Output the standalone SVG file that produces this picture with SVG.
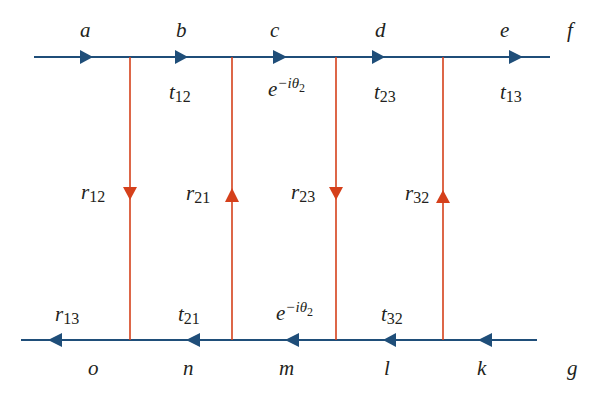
<svg xmlns="http://www.w3.org/2000/svg" width="600" height="402" viewBox="0 0 600 402">
<style>
.bl{stroke:#1F4E79;stroke-width:2;fill:none}
.rl{stroke:#D5401B;stroke-width:1.6;fill:none}
.ba{fill:#1F4E79}
.ra{fill:#D5401B}
.t{font-style:italic;font-size:21px;fill:#231F20}
.s{font-style:normal;font-size:16px}
.sp{font-size:15px}
.ss{font-style:normal;font-size:12px}
</style>
<rect width="600" height="402" fill="#fff"/>
<g id="connectors">
<line class="bl" x1="34" y1="57" x2="550" y2="57"/>
<line class="bl" x1="21" y1="340" x2="537" y2="340"/>
<line class="rl" x1="130" y1="57" x2="130" y2="340"/>
<line class="rl" x1="232" y1="57" x2="232" y2="340"/>
<line class="rl" x1="336" y1="57" x2="336" y2="340"/>
<line class="rl" x1="443" y1="57" x2="443" y2="340"/>
<polygon class="ba" points="80,50 93,57 80,64"/>
<polygon class="ba" points="175,50 188,57 175,64"/>
<polygon class="ba" points="273,50 287,57 273,64"/>
<polygon class="ba" points="372,50 385,57 372,64"/>
<polygon class="ba" points="509,50 523,57 509,64"/>
<polygon class="ba" points="48,340 62,333 62,347"/>
<polygon class="ba" points="186,340 200,333 200,347"/>
<polygon class="ba" points="285,340 299,333 299,347"/>
<polygon class="ba" points="383,340 396,333 396,347"/>
<polygon class="ba" points="478,340 492,333 492,347"/>
<polygon class="ra" points="123,187 137,187 130,200"/>
<polygon class="ra" points="329,187 343,187 336,200"/>
<polygon class="ra" points="225,202 239,202 232,188"/>
<polygon class="ra" points="436,203 450,203 443,190"/>
</g>
<g id="node-labels" class="t" font-family="'Liberation Serif', 'DejaVu Serif', serif">
<text id="a" x="80" y="37">a</text>
<text id="b" x="176" y="37">b</text>
<text id="c" x="270" y="37">c</text>
<text id="d" x="375" y="37">d</text>
<text id="e" x="500" y="37">e</text>
<text id="f" x="567" y="37">f</text>
<text id="o" x="88" y="375">o</text>
<text id="n" x="183" y="375">n</text>
<text id="m" x="279" y="375">m</text>
<text id="l" x="384" y="375">l</text>
<text id="k" x="477" y="375">k</text>
<text id="g" x="567" y="375">g</text>
</g>
<g id="edge-labels" class="t" font-family="'Liberation Serif', 'DejaVu Serif', serif">
<text x="169" y="99">t<tspan class="s" dy="3">12</tspan></text>
<text x="268" y="96">e<tspan class="sp" dy="-8">−<tspan>i</tspan>θ</tspan><tspan class="ss" dy="4">2</tspan></text>
<text x="374" y="99">t<tspan class="s" dy="3">23</tspan></text>
<text x="500" y="99">t<tspan class="s" dy="3">13</tspan></text>
<text x="81" y="199">r<tspan class="s" dy="3">12</tspan></text>
<text x="186" y="200">r<tspan class="s" dy="3">21</tspan></text>
<text x="291" y="199">r<tspan class="s" dy="3">23</tspan></text>
<text x="405" y="200">r<tspan class="s" dy="3">32</tspan></text>
<text x="55" y="321">r<tspan class="s" dy="3">13</tspan></text>
<text x="178" y="321">t<tspan class="s" dy="3">21</tspan></text>
<text x="276" y="320">e<tspan class="sp" dy="-8">−<tspan>i</tspan>θ</tspan><tspan class="ss" dy="4">2</tspan></text>
<text x="381" y="321">t<tspan class="s" dy="3">32</tspan></text>
</g>
</svg>
